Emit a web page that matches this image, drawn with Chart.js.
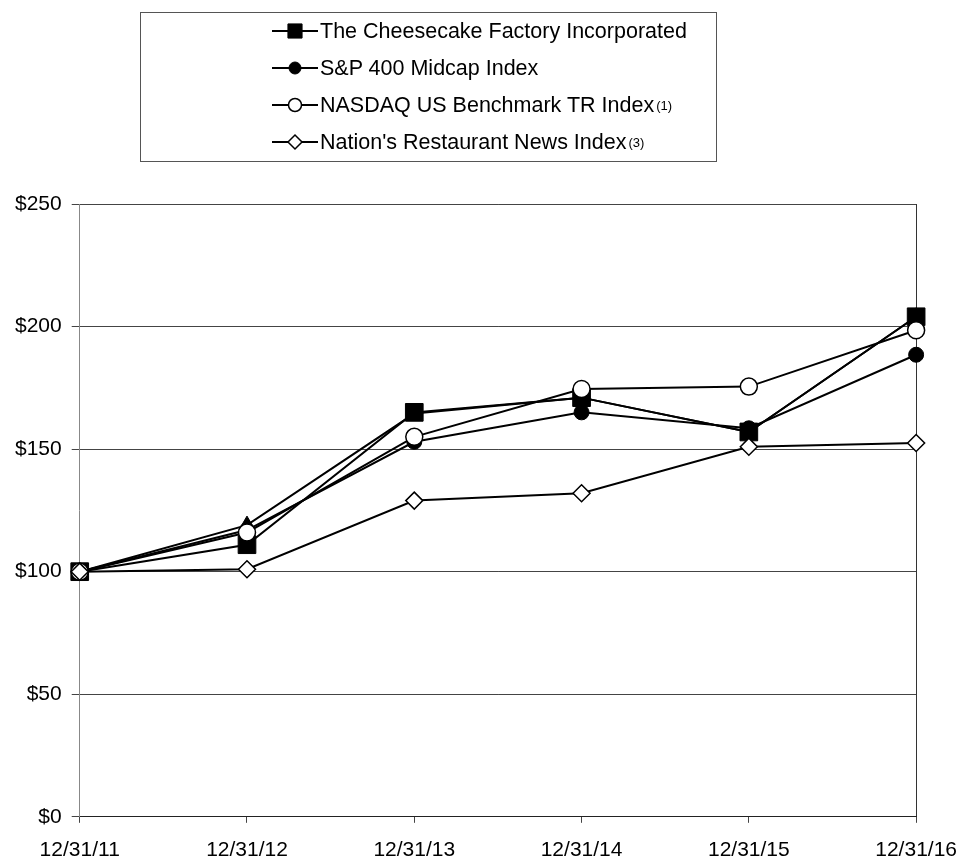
<!DOCTYPE html>
<html lang="en">
<head>
<meta charset="UTF-8">
<title>Cumulative Total Return</title>
<script src="https://cdn.jsdelivr.net/npm/chart.js"></script>
<style>
  html, body { margin: 0; padding: 0; background: #fff; }
  body { width: 958px; height: 863px; position: relative; overflow: hidden; font-family: "Liberation Sans", Arial, sans-serif; }
  #chartBox { position: absolute; left: 0; top: 0; width: 972px; height: 878px; }
  #legend { position: absolute; left: 140px; top: 12px; width: 577px; height: 150px; border: 1px solid #555; box-sizing: border-box; background: #fff; }
  .item { position: absolute; left: 131px; height: 24px; display: flex; align-items: center; font-size: 21.5px; color: #000; white-space: nowrap; }
  .item canvas { margin-right: 2px; }
  .item sup { font-size: 13px; vertical-align: 9px; margin-left: 2px; }
</style>
</head>
<body>
<div id="chartBox"><canvas id="myChart" width="972" height="878"></canvas></div>
<div id="legend"></div>

<script>
// x categories
const labels = ['12/31/11', '12/31/12', '12/31/13', '12/31/14', '12/31/15', '12/31/16'];

// values ($100 invested)
const cheesecake = [100, 111, 165, 171, 157, 204];
const sp400 = [100, 117, 153, 165, 158.5, 188.5];
const nasdaq = [100, 116, 155, 174.5, 175.5, 198.5];
const nrnIndex = [100, 101, 129, 132, 151, 152.5];
// series with triangle markers, only visible at 12/31/12 (no legend entry)
const peerIndex = [100, 119, 164.5, 171, 157, 204];

const seriesNames = [
    'The Cheesecake Factory Incorporated',
    'S&P 400 Midcap Index',
    'NASDAQ US Benchmark TR Index',
    "Nation's Restaurant News Index"
];
const footnotes = ['', '', '(1)', '(3)'];

const yTicks = [0, 50, 100, 150, 200, 250];

const datasets = [
    { label: seriesNames[0], data: cheesecake, pointStyle: 'rect', pointRadius: 12.5, backgroundColor: '#000', order: 5 },
    { label: 'peer', data: peerIndex, pointStyle: 'triangle', pointRadius: 9, backgroundColor: '#000', order: 4, noLegend: true },
    { label: seriesNames[1], data: sp400, pointStyle: 'circle', pointRadius: 7.5, backgroundColor: '#000', order: 3 },
    { label: seriesNames[2], data: nasdaq, pointStyle: 'circle', pointRadius: 8.5, backgroundColor: '#fff', order: 2 },
    { label: seriesNames[3], data: nrnIndex, pointStyle: 'rectRot', pointRadius: 8.5, backgroundColor: '#fff', order: 1 }
].map(d => Object.assign({
    borderColor: '#000',
    borderWidth: 2,
    pointBorderColor: '#000',
    pointBorderWidth: d.backgroundColor === '#fff' ? 1.5 : 1,
    pointBackgroundColor: d.backgroundColor,
    pointHoverRadius: d.pointRadius,
    tension: 0,
    fill: false
}, d));

const font = { family: '"Liberation Sans", Arial, sans-serif', size: 21 };

const ctx = document.getElementById('myChart').getContext('2d');
const myChart = new Chart(ctx, {
    type: 'line',
    data: { labels: labels, datasets: datasets },
    options: {
        responsive: false,
        animation: false,
        events: [],
        layout: { padding: { left: 5, right: 0, top: 204, bottom: 0 } },
        plugins: {
            legend: { display: false },
            tooltip: { enabled: false }
        },
        scales: {
            x: {
                offset: false,
                grid: {
                    color: c => c.index === labels.length - 1 ? '#333' : 'rgba(0,0,0,0)',
                    tickColor: '#444',
                    tickLength: 6,
                    lineWidth: 1
                },
                border: { color: '#222', width: 1 },
                ticks: { color: '#000', font: font, padding: 15, maxRotation: 0, autoSkip: false }
            },
            y: {
                min: 0,
                max: 250,
                afterBuildTicks: axis => { axis.ticks = yTicks.map(v => ({ value: v })); },
                grid: { color: '#444', tickColor: '#444', tickLength: 8, lineWidth: 1 },
                border: { color: '#888', width: 1 },
                ticks: { color: '#000', font: font, padding: 10, callback: v => '$' + v }
            }
        }
    }
});

// html legend, symbols drawn with Chart.js point helper
const legendEl = document.getElementById('legend');
const rowCenters = [19, 56, 93, 130];
datasets.filter(d => !d.noLegend).forEach((d, i) => {
    const row = document.createElement('div');
    row.className = 'item';
    row.style.top = (rowCenters[i] - 12 - 1) + 'px';
    const c = document.createElement('canvas');
    c.width = 46; c.height = 24;
    const g = c.getContext('2d');
    g.strokeStyle = '#000';
    g.lineWidth = 2;
    g.beginPath(); g.moveTo(0, 12); g.lineTo(46, 12); g.stroke();
    g.fillStyle = d.pointBackgroundColor;
    g.strokeStyle = '#000';
    g.lineWidth = d.pointBorderWidth;
    const r = d.pointStyle === 'rect' ? 10 : (d.pointStyle === 'circle' ? (d.backgroundColor === '#fff' ? 6.5 : 6) : 7);
    g.beginPath();
    Chart.helpers.drawPoint(g, { pointStyle: d.pointStyle, rotation: 0, radius: r, borderWidth: d.pointBorderWidth }, 23, 12);
    row.appendChild(c);
    const txt = document.createElement('span');
    txt.textContent = d.label;
    row.appendChild(txt);
    if (footnotes[i]) {
        const s = document.createElement('sup');
        s.textContent = footnotes[i];
        row.appendChild(s);
    }
    legendEl.appendChild(row);
});
</script>
</body>
</html>
